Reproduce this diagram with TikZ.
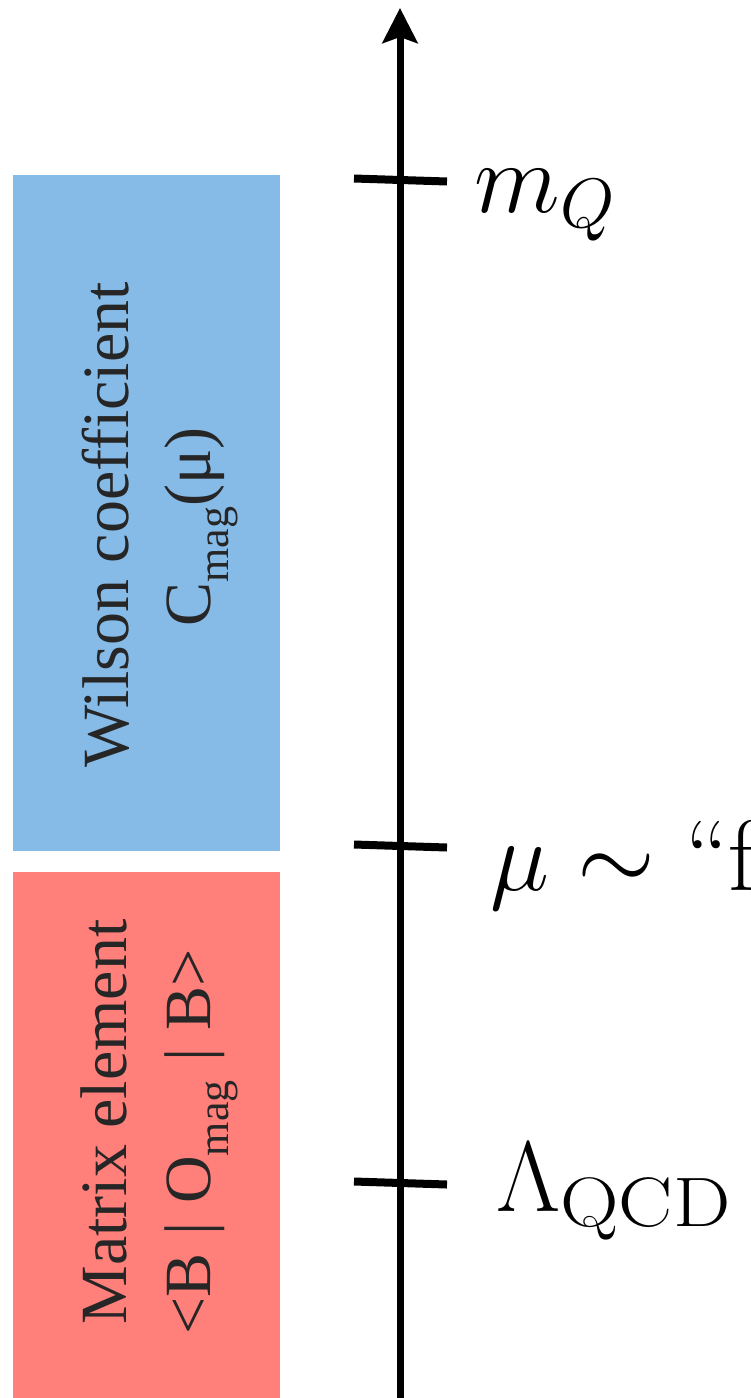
\RequirePackage{fix-cm}
\documentclass[tikz,border=0pt]{standalone}
\usepackage{fontspec}
\usepackage{tikz}
\usetikzlibrary{arrows.meta}
\newfontfamily\boxfont{Liberation Serif}
\definecolor{wilsonblue}{RGB}{134,187,232}
\definecolor{matrixred}{RGB}{255,127,122}
\newcommand{\lowsub}[1]{\raisebox{-0.28em}{\fontsize{22}{22}\selectfont #1}}

\begin{document}
\begin{tikzpicture}[x={(0.5pt,0pt)},y={(0pt,-0.5pt)},
  boxtext/.style={rotate=90,anchor=base,inner sep=0pt,text=black!85,font=\boxfont\fontsize{33}{38}\selectfont},
  tick/.style={line width=4pt},
  lbl/.style={anchor=base west,inner sep=0pt,font=\fontsize{50}{60}\selectfont}]
\useasboundingbox (0,0) rectangle (750,1398);
\clip (0,0) rectangle (750,1398);
% the two scale regions
\fill[wilsonblue] (13,175) rectangle (280,851);
\fill[matrixred] (13,872) rectangle (280,1398);
\node[boxtext] (wilson) at (128,525) {Wilson coefficient};
\node[boxtext] (cmag) at (210,527) {C\lowsub{mag}(μ)};
\node[boxtext] (matrix) at (126,1122) {Matrix element};
\node[boxtext] (bracket) at (210,1142) {<B\;|\;O\lowsub{mag}\;|\;B>};
% scale axis
\coordinate (low) at (400,1398);
\coordinate (high) at (400,8);
\draw[line width=3.5pt,-{Stealth[length=17.5pt,width=17.5pt,inset=3pt]}] (low) -- (high);
\foreach \nm/\yy in {mq/180,fact/846,lqcd/1183}{
  \coordinate (\nm-l) at (354,\yy-1.5);
  \coordinate (\nm-r) at (447,\yy+1.5);
  \draw[tick] (\nm-l) -- (\nm-r);
}
\node[lbl] (mQ) at (474,212) {$m_Q$};
\node[lbl] (mu) at (490,890) {$\mu\sim$ ``f};
\node[lbl] (lam) at (496,1211) {$\Lambda_{\scalebox{1.16}[1]{$\scriptstyle\mathrm{QCD}$}}$};
\end{tikzpicture}
\end{document}
